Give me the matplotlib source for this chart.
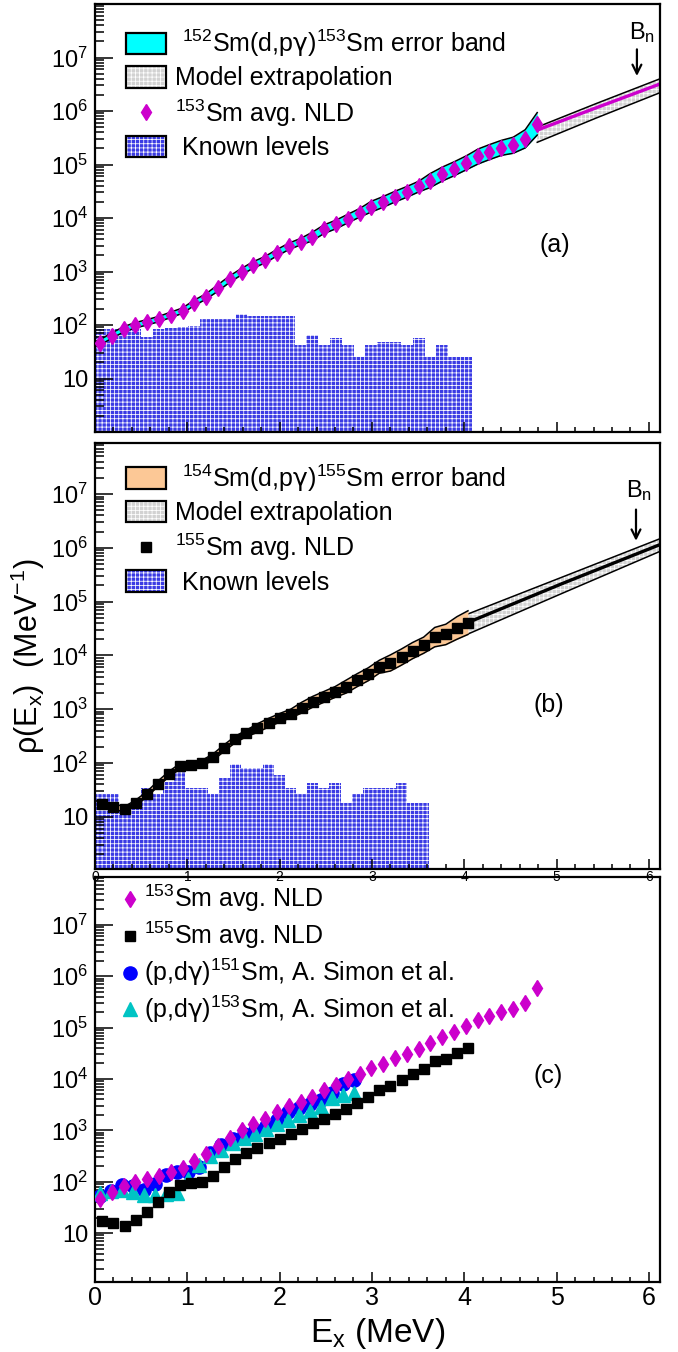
import numpy as np
import matplotlib
matplotlib.use('Agg')
import matplotlib.pyplot as plt
from matplotlib.patches import Patch
from matplotlib.lines import Line2D
from matplotlib.ticker import FixedLocator, MultipleLocator, FuncFormatter, NullFormatter

plt.rcParams['font.family'] = ['Liberation Sans', 'DejaVu Sans']
plt.rcParams['mathtext.fontset'] = 'custom'
plt.rcParams['mathtext.rm'] = 'Liberation Sans'
plt.rcParams['mathtext.it'] = 'Liberation Sans:italic'
plt.rcParams['mathtext.bf'] = 'Liberation Sans:bold'
plt.rcParams['mathtext.sf'] = 'DejaVu Sans'
plt.rcParams['hatch.linewidth'] = 0.55
plt.rcParams['hatch.color'] = 'white'

# ---- 153Sm : 152Sm(d,p gamma) ----
ex_153 = [0.05, 0.18, 0.31, 0.43, 0.56, 0.69, 0.82, 0.95, 1.07, 1.20,
          1.33, 1.46, 1.59, 1.71, 1.84, 1.97, 2.10, 2.23, 2.35, 2.48,
          2.61, 2.74, 2.87, 2.99, 3.12, 3.25, 3.38, 3.51, 3.63, 3.76,
          3.89, 4.02, 4.15, 4.27, 4.40, 4.53, 4.66, 4.79]
nld_153 = [47, 63, 83, 98, 112, 129, 155, 186, 257, 339,
           490, 724, 1000, 1318, 1660, 2239, 2951, 3631, 4467, 6166,
           7586, 9772, 12589, 16218, 19953, 25119, 30903, 38905, 50119, 66069,
           83176, 107152, 141254, 169824, 204174, 229087, 301995, 575440]
# half width of the error band (decades)
err_153 = [0.05, 0.05, 0.05, 0.05, 0.05, 0.05, 0.05, 0.05, 0.05, 0.05,
           0.06, 0.06, 0.06, 0.06, 0.06, 0.06, 0.06, 0.06, 0.08, 0.08,
           0.08, 0.08, 0.08, 0.10, 0.10, 0.10, 0.10, 0.10, 0.13, 0.13,
           0.13, 0.13, 0.14, 0.14, 0.14, 0.15, 0.17, 0.21]
# known levels, same binning as ex_153
known_153 = [83, 83, 83, 83, 59, 84, 87, 91, 97, 132,
             132, 132, 162, 150, 145, 145, 145, 42, 66, 42,
             58, 42, 25, 42, 49, 49, 42, 58, 25, 42,
             25, 25]
model_153_ex = [4.79, 5.43, 6.12]
model_153_mid = [4.4e5, 1.15e6, 3.2e6]
model_153_lo = [2.6e5, 7.4e5, 2.2e6]
model_153_hi = [5.0e5, 1.38e6, 4.0e6]
bn_153 = 5.87

# ---- 155Sm : 154Sm(d,p gamma) ----
ex_155 = [0.08, 0.20, 0.32, 0.44, 0.56, 0.68, 0.80, 0.92, 1.04, 1.16,
          1.28, 1.40, 1.52, 1.64, 1.76, 1.88, 2.00, 2.12, 2.24, 2.36,
          2.48, 2.60, 2.72, 2.84, 2.96, 3.08, 3.20, 3.32, 3.44, 3.56,
          3.68, 3.80, 3.92, 4.04]
nld_155 = [17, 15.5, 13.8, 18.2, 26, 41, 62, 87, 93, 100,
           129, 191, 275, 355, 447, 562, 692, 832, 1072, 1380,
           1698, 2089, 2630, 3467, 4467, 6166, 7244, 9333, 12303, 15488,
           21878, 24547, 32359, 40738]
err_155 = [0.05, 0.05, 0.05, 0.05, 0.05, 0.05, 0.05, 0.05, 0.05, 0.05,
           0.06, 0.06, 0.06, 0.06, 0.08, 0.08, 0.08, 0.08, 0.10, 0.10,
           0.10, 0.10, 0.12, 0.12, 0.12, 0.12, 0.15, 0.15, 0.15, 0.15,
           0.18, 0.19, 0.21, 0.22]
known_155_ex = [-0.04] + ex_155[:30]
known_155 = [26, 26, 26, 15, 15, 35, 26, 45, 74, 35,
             35, 26, 52, 96, 80, 80, 96, 59, 35, 26,
             43, 35, 43, 18, 26, 35, 35, 35, 43, 18,
             18]
model_155_ex = [4.04, 5.07, 6.12]
model_155_mid = [4.1e4, 2.2e5, 1.15e6]
model_155_lo = [2.5e4, 1.45e5, 8.6e5]
model_155_hi = [5.9e4, 2.9e5, 1.48e6]
bn_155 = 5.86

# ---- A. Simon et al. (p,d gamma) ----
simon_ex = [0.05, 0.17, 0.29, 0.41, 0.53, 0.65, 0.77, 0.89, 1.01, 1.13,
            1.25, 1.37, 1.49, 1.61, 1.73, 1.85, 1.97, 2.09, 2.21, 2.33,
            2.45, 2.57, 2.69, 2.81]
simon_151 = [52, 66, 87, 83, 69, 89, 138, 158, 158, 191,
             355, 525, 676, 832, 1000, 1202, 1585, 2239, 2754, 3311,
             3981, 5248, 7943, 9550]
simon_153 = [60, 65, 69, 63, 55, 55, 58, 60, 112, 214,
             316, 417, 562, 708, 851, 1072, 1318, 1585, 1995, 2344,
             2884, 4169, 4898, 5248]

MAGENTA = '#cc00cc'
CYAN = '#00ffff'
ORANGE = '#fcc896'
GREY = '#d2d2d2'
LEVBLUE = '#3a3ae4'
GAMMA = r'$\mathsf{\gamma}$'


def bin_edges(centers, width):
    c = np.asarray(centers, dtype=float)
    mids = (c[1:] + c[:-1]) / 2
    return np.concatenate([[c[0] - width / 2], mids, [c[-1] + width / 2]])


def ylab(v, pos):
    e = int(round(np.log10(v)))
    if e == 1:
        return '10'
    if 2 <= e <= 7:
        return r'$\mathregular{10^{%d}}$' % e
    return ''


def style_axis(ax, ylim):
    ax.set_xlim(0, 6.12)
    ax.set_yscale('log')
    ax.set_ylim(*ylim)
    ax.yaxis.set_major_locator(FixedLocator([10.0 ** k for k in range(0, 9)]))
    ax.yaxis.set_minor_locator(FixedLocator([m * 10.0 ** k for k in range(0, 8) for m in range(2, 10)]))
    ax.yaxis.set_major_formatter(FuncFormatter(ylab))
    ax.yaxis.set_minor_formatter(NullFormatter())
    ax.xaxis.set_major_locator(MultipleLocator(1))
    ax.xaxis.set_minor_locator(MultipleLocator(0.2))
    ax.tick_params(which='both', direction='in', top=False, right=False, width=1.1)
    ax.tick_params(axis='y', which='major', length=13, labelsize=17, pad=5)
    ax.tick_params(axis='y', which='minor', length=6.5)
    ax.tick_params(axis='x', which='major', length=7.5)
    ax.tick_params(axis='x', which='minor', length=3.5)
    for s in ax.spines.values():
        s.set_linewidth(1.6)


def draw_band(ax, ex, nld, err, color):
    nld = np.asarray(nld, dtype=float)
    w = 10.0 ** np.asarray(err)
    ax.fill_between(ex, nld / w, nld * w, color=color, lw=0, zorder=3)
    ax.plot(ex, nld / w, color='black', lw=1.1, zorder=3.1)
    ax.plot(ex, nld * w, color='black', lw=1.1, zorder=3.1)


def draw_model(ax, ex, lo, mid, hi, linecolor):
    ax.fill_between(ex, lo, hi, facecolor=GREY, hatch='++++', lw=0, zorder=2)
    ax.plot(ex, lo, color='black', lw=1.1, zorder=2.1)
    ax.plot(ex, hi, color='black', lw=1.1, zorder=2.1)
    ax.plot(ex, mid, color=linecolor, lw=2.4, zorder=2.2)


def draw_levels(ax, ex, counts, width):
    ax.stairs(counts, bin_edges(ex, width), baseline=0.1, fill=True,
              facecolor=LEVBLUE, hatch='++++', zorder=1)


fig = plt.figure(figsize=(6.78, 13.52), dpi=100)
W, H = 678.0, 1352.0
ax_a = fig.add_axes([95 / W, 1 - 432 / H, 565 / W, 428 / H])
ax_b = fig.add_axes([95 / W, 1 - 869 / H, 565 / W, 426 / H])
ax_c = fig.add_axes([95 / W, 1 - 1282 / H, 565 / W, 405 / H])
ax_c.patch.set_visible(False)

style_axis(ax_a, (1.0, 1.0e8))
style_axis(ax_b, (1.07, 8.9e7))
style_axis(ax_c, (1.12, 8.5e7))

legend_kw = dict(loc='upper left', frameon=False, fontsize=18, borderpad=0,
                 handlelength=1.6, handleheight=0.95, handletextpad=0.35,
                 labelspacing=0.28, borderaxespad=0)


def box(color):
    return (Patch(facecolor=color, hatch='++++', lw=0),
            Patch(facecolor='none', edgecolor='black', lw=1.6))


# ---- panel (a) ----
draw_levels(ax_a, ex_153[:len(known_153)], known_153, 0.128)
draw_model(ax_a, model_153_ex, model_153_lo, model_153_mid, model_153_hi, MAGENTA)
draw_band(ax_a, ex_153, nld_153, err_153, CYAN)
ax_a.plot(ex_153, nld_153, ls='none', marker='d', ms=8.4, color=MAGENTA, zorder=5)
ax_a.xaxis.set_major_formatter(NullFormatter())
ax_a.annotate('', xy=(bn_153, 4.0e6), xytext=(bn_153, 1.6e7),
              arrowprops=dict(arrowstyle='->', lw=1.6, color='black', mutation_scale=16))
ax_a.text(bn_153 + 0.06, 10 ** 7.47, r'B$_{\mathregular{n}}$', fontsize=17, ha='center', va='center')
ax_a.text(4.98, 10 ** 3.5, '(a)', fontsize=18, ha='center', va='center')

handles_a = [Patch(facecolor=CYAN, edgecolor='black', lw=1.6),
             box(GREY),
             Line2D([], [], ls='none', marker='d', ms=8.4, color=MAGENTA),
             box(LEVBLUE)]
labels_a = [r' $^{\mathregular{152}}$Sm(d,p' + GAMMA + r')$^{\mathregular{153}}$Sm error band',
            'Model extrapolation',
            r'$^{\mathregular{153}}$Sm avg. NLD',
            ' Known levels']
ax_a.legend(handles_a, labels_a, bbox_to_anchor=(0.055, 0.945), **legend_kw)

# ---- panel (b) ----
draw_levels(ax_b, known_155_ex, known_155, 0.12)
draw_model(ax_b, model_155_ex, model_155_lo, model_155_mid, model_155_hi, 'black')
draw_band(ax_b, ex_155, nld_155, err_155, ORANGE)
ax_b.plot(ex_155, nld_155, ls='none', marker='s', ms=7.4, color='black', zorder=5)
ax_b.tick_params(axis='x', labelsize=10, pad=1)
ax_b.annotate('', xy=(bn_155, 1.2e6), xytext=(bn_155, 5.8e6),
              arrowprops=dict(arrowstyle='->', lw=1.6, color='black', mutation_scale=16))
ax_b.text(bn_155 + 0.03, 10 ** 7.07, r'B$_{\mathregular{n}}$', fontsize=17, ha='center', va='center')
ax_b.text(4.92, 10 ** 3.08, '(b)', fontsize=18, ha='center', va='center')
ax_b.set_ylabel(r'ρ(E$_{\mathregular{x}}$)  (MeV$^{\mathregular{-1}}$)', fontsize=22)
ax_b.yaxis.set_label_coords(-0.085, 0.5)

handles_b = [Patch(facecolor=ORANGE, edgecolor='black', lw=1.6),
             box(GREY),
             Line2D([], [], ls='none', marker='s', ms=7.4, color='black'),
             box(LEVBLUE)]
labels_b = [r' $^{\mathregular{154}}$Sm(d,p' + GAMMA + r')$^{\mathregular{155}}$Sm error band',
            'Model extrapolation',
            r'$^{\mathregular{155}}$Sm avg. NLD',
            ' Known levels']
ax_b.legend(handles_b, labels_b, bbox_to_anchor=(0.055, 0.955), **legend_kw)

# ---- panel (c) ----
ax_c.plot(ex_153, nld_153, ls='none', marker='d', ms=8.0, color=MAGENTA, zorder=5,
          label=r'$^{\mathregular{153}}$Sm avg. NLD')
ax_c.plot(ex_155, nld_155, ls='none', marker='s', ms=6.8, color='black', zorder=4,
          label=r'$^{\mathregular{155}}$Sm avg. NLD')
ax_c.plot(simon_ex, simon_151, ls='none', marker='o', ms=9.5, color='#0000ff', zorder=3,
          label=r'(p,d' + GAMMA + r')$^{\mathregular{151}}$Sm, A. Simon et al.')
ax_c.plot(simon_ex, simon_153, ls='none', marker='^', ms=10, color='#00c4c4', zorder=3.5,
          label=r'(p,d' + GAMMA + r')$^{\mathregular{153}}$Sm, A. Simon et al.')
ax_c.tick_params(axis='x', labelsize=18, pad=3)
ax_c.text(4.91, 10 ** 4.05, '(c)', fontsize=18, ha='center', va='center')
ax_c.set_xlabel(r'E$_{\mathregular{x}}$ (MeV)', fontsize=24)
ax_c.xaxis.set_label_coords(0.5, -0.085)
ax_c.legend(bbox_to_anchor=(0.045, 0.985), loc='upper left', frameon=False, fontsize=18,
            borderpad=0, handlelength=0.8, handletextpad=0.15, labelspacing=0.22, borderaxespad=0)

fig.savefig('out.png', dpi=100)
